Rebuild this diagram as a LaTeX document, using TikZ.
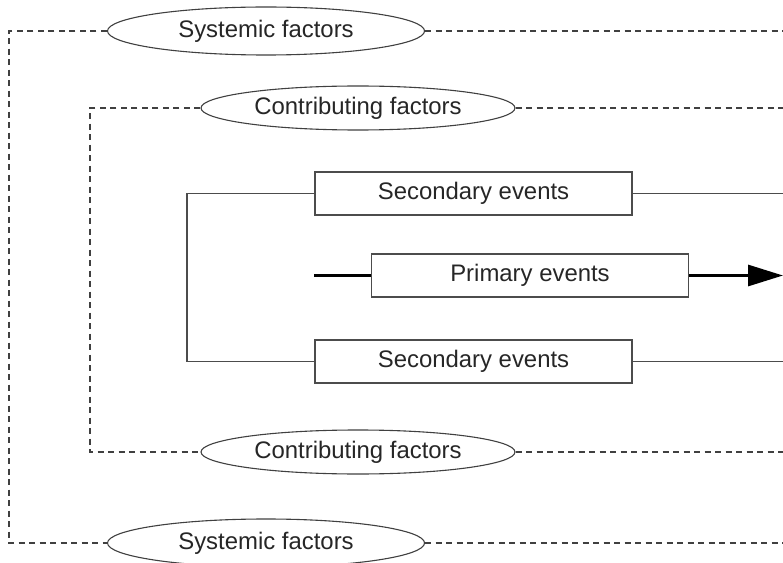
\documentclass[tikz,border=0pt]{standalone}
\usepackage{fontspec}
\setmainfont{Liberation Sans}
\usetikzlibrary{shapes.geometric,arrows.meta}
\begin{document}
\begin{tikzpicture}[x=1bp,y=-1bp,
  lbl/.style={font=\fontsize{24}{28}\selectfont, text=black!85},
  oval/.style={ellipse, draw=black!75, line width=1.1bp, inner sep=0pt, fill=white, lbl},
  evbox/.style={rectangle, draw=black!70, line width=1.3bp, inner sep=0pt, minimum width=317bp, minimum height=43bp, lbl},
  dashline/.style={draw=black!75, line width=1.1bp, dash pattern=on 6bp off 4.5bp},
  solidline/.style={draw=black!70, line width=1.1bp},
  thickline/.style={draw=black, line width=3bp}]
\useasboundingbox (0,0) rectangle (783,563);
% nodes
\node[oval, minimum width=317bp, minimum height=48bp] (sysT) at (266,31) {Systemic factors};
\node[oval, minimum width=317bp, minimum height=48bp] (sysB) at (266,543) {Systemic factors};
\node[oval, minimum width=314bp, minimum height=44bp] (conT) at (358,108) {Contributing factors};
\node[oval, minimum width=314bp, minimum height=44bp] (conB) at (358,452) {Contributing factors};
\node[evbox] (secT) at (473.5,193.5) {Secondary events};
\node[evbox] (prim) at (530,275.5) {Primary events};
\node[evbox] (secB) at (473.5,361.5) {Secondary events};
% free ends
\coordinate (sysTR) at (783,31);
\coordinate (sysBR) at (783,543);
\coordinate (outL) at (9,31);
\coordinate (conTR) at (783,108);
\coordinate (conBR) at (783,452);
\coordinate (inL) at (90,108);
\coordinate (secTR) at (783,193.5);
\coordinate (secBR) at (783,361.5);
\coordinate (brL) at (187,193.5);
\coordinate (pin) at (314,275.5);
\coordinate (pout) at (783,275.5);
% dashed frames
\draw[dashline] (sysT.west) -- (outL) |- (sysB.west);
\draw[dashline] (sysT.east) -- (sysTR);
\draw[dashline] (sysB.east) -- (sysBR);
\draw[dashline] (conT.west) -- (inL) |- (conB.west);
\draw[dashline] (conT.east) -- (conTR);
\draw[dashline] (conB.east) -- (conBR);
% secondary events
\draw[solidline] (secT.west) -- (brL) |- (secB.west);
\draw[solidline] (secT.east) -- (secTR);
\draw[solidline] (secB.east) -- (secBR);
% primary
\draw[thickline] (pin) -- (prim.west);
\draw[thickline, -{Triangle[length=35bp,width=21bp]}] (prim.east) -- (pout);
\end{tikzpicture}
\end{document}
